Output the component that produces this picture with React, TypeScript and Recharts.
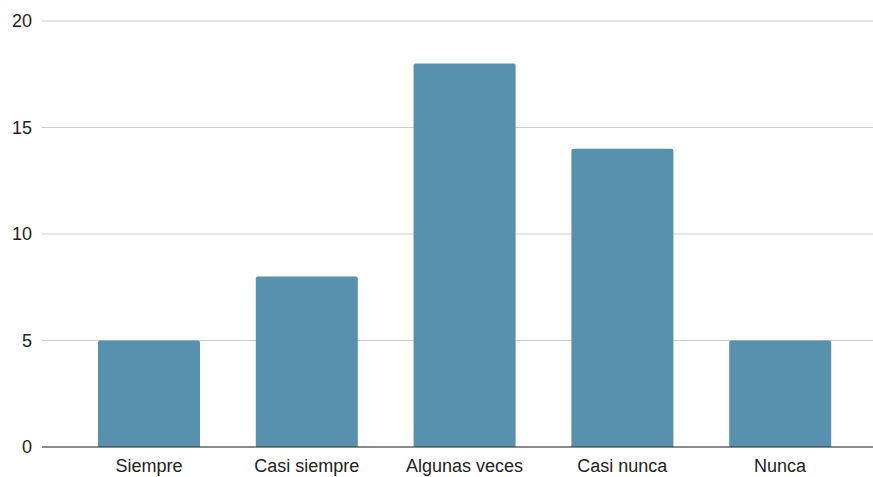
import { BarChart, Bar, XAxis, YAxis, CartesianGrid } from 'recharts';

// Survey answers: frequency categories and counts
const categories = ['Siempre', 'Casi siempre', 'Algunas veces', 'Casi nunca', 'Nunca'];
const counts = [5, 8, 18, 14, 5];
const yTicks = [0, 5, 10, 15, 20];

const BAR_COLOR = '#5891ad';
const FONT = '"Liberation Sans", Arial, sans-serif';

const data = categories.map((name, i) => ({ name, value: counts[i] }));

export default function App() {
  return (
    <div style={{ position: 'absolute', left: 0, top: 0, width: 873, height: 477, background: '#fff' }}>
      <BarChart
        width={873}
        height={477}
        data={data}
        margin={{ top: 21, right: 0, left: 0, bottom: 0 }}
      >
        <CartesianGrid vertical={false} stroke="#cccccc" />
        <XAxis
          dataKey="name"
          height={30}
          padding={{ left: 28, right: 14 }}
          axisLine={{ stroke: '#333333' }}
          tickLine={false}
          tickMargin={6}
          tick={{ fontSize: 18, fill: '#222222', fontFamily: FONT }}
          interval={0}
        />
        <YAxis
          width={42}
          domain={[0, 20]}
          ticks={yTicks}
          axisLine={false}
          tickLine={false}
          tickMargin={4}
          tick={{ fontSize: 18, fill: '#222222', fontFamily: FONT }}
        />
        <Bar
          dataKey="value"
          fill={BAR_COLOR}
          barSize={102}
          radius={[2, 2, 0, 0]}
          isAnimationActive={false}
        />
      </BarChart>
    </div>
  );
}
